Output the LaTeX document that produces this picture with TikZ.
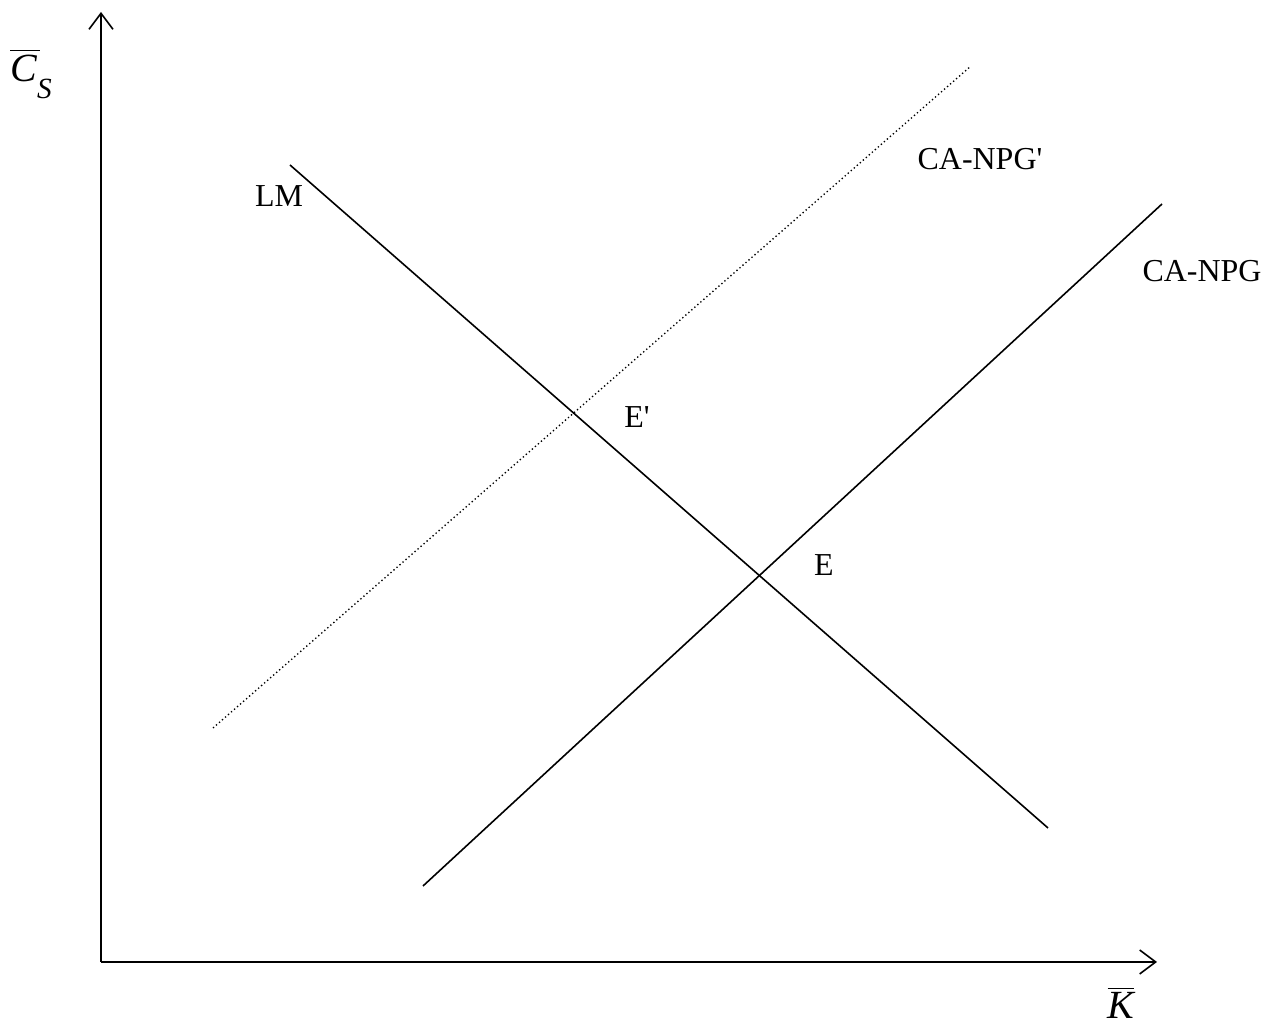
\documentclass[tikz,border=0pt]{standalone}
\usepackage{fontspec}
\setmainfont{Liberation Serif}
\usetikzlibrary{arrows.meta}

\begin{document}
\begin{tikzpicture}[x=0.0132cm,y=-0.0132cm,>={Straight Barb[length=6pt,width=9pt]},line width=0.6pt,font=\fontsize{12}{14}\selectfont]
\useasboundingbox (0,0) rectangle (1277,1030);
% axes
\coordinate (O) at (101,962);
\coordinate (ytop) at (101,12);
\coordinate (xend) at (1157,962);
\draw[->] (O) -- (ytop);
\draw[->] (O) -- (xend);
\node (ylab) at (31,74) {\fontsize{15}{17}\selectfont$\overline{\textit{C}\kern1pt}$\kern-1pt\raisebox{-6.5pt}{\fontsize{11}{13}\selectfont\textit{S}}};
\node (xlab) at (1121,1003) {\fontsize{15}{17}\selectfont$\overline{\textit{K}}$};
% curves
\coordinate (lma) at (290,165);
\coordinate (lmb) at (1048,828);
\coordinate (caa) at (423,886);
\coordinate (cab) at (1162,204);
\coordinate (cpa) at (213,728);
\coordinate (cpb) at (971,66);
\draw (lma) -- (lmb);
\draw (caa) -- (cab);
\draw[densely dotted,line width=0.5pt] (cpa) -- (cpb);
\node (lm) at (279,196) {LM};
\node (canpgp) at (980,159) {CA-NPG\textquotesingle};
\node (canpg) at (1202,271) {CA-NPG};
\node (ep) at (637,417) {E\textquotesingle};
\node (e) at (824,565) {E};
\end{tikzpicture}
\end{document}
